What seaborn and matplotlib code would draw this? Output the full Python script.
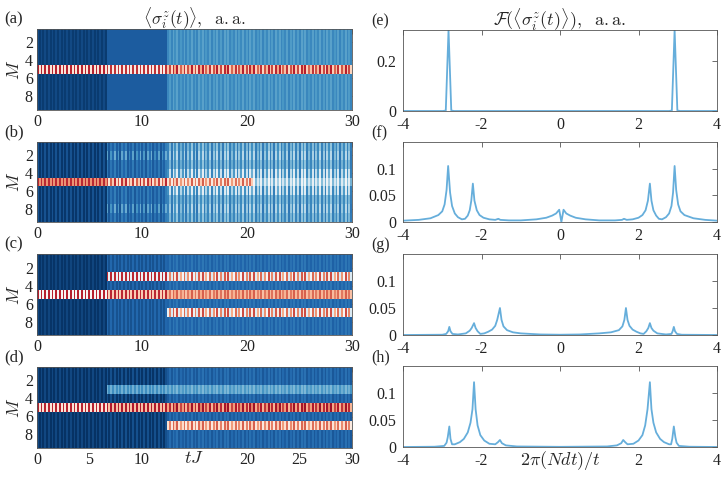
import numpy as np
import pandas as pd
import matplotlib
matplotlib.use('Agg')
import matplotlib.pyplot as plt
import seaborn as sns

# heat map grid: one column per time step, one row per site M
n_cols = 172
t_max = 30
M_rows = [1, 2, 3, 4, 5, 6, 7, 8, 9]

# stripe patterns seen in the maps (one entry per column, repeated)
wave_even = [1, -1]
wave_beat = [1, -0.8, 0.6, -1, 0.9, -0.4, 1, -0.9, 0.3, -0.7, 0.8, -1, 0.5, -0.6]

# panel (a): segment edges in tJ, background level / stripe amplitude,
# rows that differ from the background: {M: (levels, amplitudes)}
a_edges = [0, 6.7, 12.4, 30]
a_waves = ['even', 'even', 'beat']
a_bg = [-0.93, -0.83, -0.6]
a_bg_amp = [0.03, 0.0, 0.06]
a_rows = {5: ([0.45, 0.4, 0.5], [0.32, 0.32, 0.28])}

# panel (b)
b_edges = [0, 6.7, 12.4, 20.5, 30]
b_waves = ['even', 'beat', 'beat', 'beat']
b_bg = [-0.92, -0.77, -0.55, -0.55]
b_bg_amp = [0.05, 0.08, 0.15, 0.15]
b_rows = {2: ([-0.92, -0.68, -0.5, -0.5], [0.05, 0.18, 0.22, 0.22]),
          4: ([-0.92, -0.77, -0.38, -0.4], [0.05, 0.08, 0.28, 0.28]),
          5: ([0.6, 0.45, 0.35, -0.25], [0.15, 0.3, 0.25, 0.22]),
          6: ([-0.92, -0.77, -0.38, -0.4], [0.05, 0.08, 0.28, 0.28]),
          8: ([-0.92, -0.68, -0.5, -0.5], [0.05, 0.18, 0.22, 0.22])}

# panel (c)
c_edges = [0, 6.7, 12.4, 30]
c_waves = ['even', 'even', 'beat']
c_bg = [-0.95, -0.83, -0.77]
c_bg_amp = [0.03, 0.04, 0.05]
c_rows = {3: ([-0.95, 0.35, 0.25], [0.03, 0.4, 0.4]),
          5: ([0.4, 0.5, 0.45], [0.38, 0.25, 0.15]),
          7: ([-0.95, -0.83, 0.25], [0.03, 0.04, 0.4])}

# panel (d)
d_edges = [0, 6.7, 12.4, 30]
d_waves = ['even', 'even', 'beat']
d_bg = [-0.95, -0.93, -0.8]
d_bg_amp = [0.04, 0.05, 0.05]
d_rows = {3: ([-0.95, -0.55, -0.52], [0.04, 0.07, 0.07]),
          5: ([0.45, 0.55, 0.6], [0.32, 0.25, 0.25]),
          7: ([-0.95, -0.93, 0.35], [0.04, 0.05, 0.25])}

# spectra, 2*pi*(N dt)/t vs amplitude
e_x = [-4, -2.98, -2.91, -2.84, -2.77, -2.7, 2.78, 2.85, 2.92, 2.99, 3.06, 4]
e_y = [0, 0, 0.002, 0.325, 0.002, 0, 0, 0.002, 0.325, 0.002, 0, 0]

f_x = [-4.0, -3.6, -3.3, -3.1, -3.0, -2.94, -2.89, -2.85, -2.80, -2.75,
       -2.68, -2.6, -2.5, -2.42, -2.35, -2.3, -2.26, -2.22, -2.18, -2.12,
       -2.05, -1.95, -1.8, -1.65, -1.57, -1.52, -1.3, -1.0, -0.6, -0.35,
       -0.2, -0.1, -0.02, 0.035, 0.09, 0.16, 0.26, 0.4, 0.65, 1.0,
       1.4, 1.58, 1.63, 1.7, 1.85, 2.0, 2.1, 2.18, 2.24, 2.29,
       2.33, 2.38, 2.45, 2.52, 2.6, 2.7, 2.78, 2.84, 2.88, 2.92,
       2.96, 3.01, 3.07, 3.17, 3.4, 3.7, 4.0]
f_y = [0.0025, 0.004, 0.007, 0.013, 0.02, 0.033, 0.06, 0.105, 0.055, 0.03,
       0.016, 0.009, 0.005, 0.006, 0.012, 0.022, 0.04, 0.072, 0.04, 0.022,
       0.013, 0.008, 0.005, 0.004, 0.006, 0.004, 0.003, 0.003, 0.005, 0.008,
       0.012, 0.016, 0.023, 0.0, 0.023, 0.016, 0.012, 0.008, 0.005, 0.003,
       0.003, 0.004, 0.006, 0.004, 0.005, 0.008, 0.013, 0.022, 0.04, 0.072,
       0.04, 0.022, 0.012, 0.006, 0.005, 0.009, 0.016, 0.03, 0.055, 0.105,
       0.06, 0.033, 0.02, 0.013, 0.007, 0.004, 0.0025]

g_x = [-4, -3.0, -2.9, -2.85, -2.82, -2.79, -2.74, -2.6, -2.4, -2.3,
       -2.25, -2.19, -2.15, -2.1, -2.03, -1.93, -1.83, -1.73, -1.65, -1.6,
       -1.53, -1.49, -1.44, -1.35, -1.2, -1.0, -0.5, 0, 0.5, 1.0,
       1.3, 1.5, 1.59, 1.64, 1.68, 1.72, 1.77, 1.85, 1.95, 2.05,
       2.13, 2.2, 2.25, 2.29, 2.33, 2.38, 2.48, 2.7, 2.84, 2.87,
       2.9, 2.93, 2.98, 3.1, 4]
g_y = [0, 0.0005, 0.002, 0.007, 0.015, 0.007, 0.002, 0.001, 0.003, 0.008,
       0.013, 0.022, 0.013, 0.007, 0.002, 0.003, 0.006, 0.01, 0.017, 0.028,
       0.05, 0.028, 0.016, 0.009, 0.005, 0.003, 0.001, 0.0005, 0.001, 0.003,
       0.005, 0.009, 0.016, 0.028, 0.05, 0.028, 0.017, 0.01, 0.006, 0.003,
       0.002, 0.007, 0.013, 0.022, 0.013, 0.008, 0.003, 0.001, 0.002, 0.007,
       0.015, 0.007, 0.002, 0.0005, 0]

h_x = [-4, -3.2, -2.95, -2.89, -2.86, -2.82, -2.79, -2.75, -2.68, -2.55,
       -2.45, -2.35, -2.28, -2.23, -2.19, -2.15, -2.1, -2.03, -1.93, -1.8,
       -1.65, -1.58, -1.53, -1.48, -1.38, -1.1, 0, 1.2, 1.45, 1.56,
       1.61, 1.66, 1.72, 1.87, 2.0, 2.1, 2.17, 2.23, 2.29, 2.33,
       2.38, 2.45, 2.55, 2.65, 2.78, 2.83, 2.86, 2.9, 2.94, 2.97,
       3.03, 3.3, 4]
h_y = [0, 0.0005, 0.002, 0.008, 0.018, 0.038, 0.015, 0.005, 0.005, 0.009,
       0.015, 0.027, 0.045, 0.07, 0.12, 0.07, 0.04, 0.022, 0.012, 0.006,
       0.005, 0.009, 0.013, 0.007, 0.003, 0.001, 0.0003, 0.001, 0.003, 0.007,
       0.013, 0.009, 0.005, 0.006, 0.012, 0.022, 0.04, 0.07, 0.12, 0.07,
       0.045, 0.027, 0.015, 0.009, 0.005, 0.005, 0.015, 0.038, 0.018, 0.008,
       0.002, 0.0005, 0]

line_color = '#66aedb'
box_color = '#555555'
fs = 11.5


def panel_matrix(edges, waves, bg, bg_amp, rows):
    """Builds the M x time table of one heat map from its segment levels."""
    dt = t_max / n_cols
    t = (np.arange(n_cols) + 0.5) * dt
    seg = np.searchsorted(edges, t) - 1
    data = np.zeros((len(M_rows), n_cols))
    for j in range(n_cols):
        s = seg[j]
        w = wave_even if waves[s] == 'even' else wave_beat
        wj = w[j % len(w)]
        for i, m in enumerate(M_rows):
            if m in rows:
                base, amp = rows[m][0][s], rows[m][1][s]
            else:
                base, amp = bg[s], bg_amp[s]
            data[i, j] = base + amp * wj
    return pd.DataFrame(data, index=M_rows)


def boxed(ax):
    for s in ax.spines.values():
        s.set_visible(True)
        s.set_color(box_color)
        s.set_linewidth(0.6)
    ax.tick_params(direction='in', top=True, right=True, length=3.5,
                   width=0.6, color=box_color, labelsize=fs,
                   labelcolor='#222222', pad=3)


def draw_heat(ax, df, xticks, xlabels):
    sns.heatmap(df, ax=ax, cmap='RdBu_r', vmin=-1, vmax=1, cbar=False,
                xticklabels=False, yticklabels=False)
    scale = n_cols / t_max
    ax.set_xticks([x * scale for x in xticks])
    ax.set_xticklabels(xlabels)
    ax.set_yticks([m - 0.5 for m in [2, 4, 6, 8]])
    ax.set_yticklabels(['2', '4', '6', '8'])
    ax.set_ylabel('$M$', fontsize=fs + 1, labelpad=1)
    boxed(ax)


def draw_spec(ax, x, y, ymax, yticks, ylabels, xlabels):
    sns.lineplot(x=x, y=y, ax=ax, color=line_color, lw=1.3, sort=False)
    ax.set_xlim(-4, 4)
    ax.set_ylim(0, ymax)
    ax.set_xticks([-4, -2, 0, 2, 4])
    ax.set_xticklabels(xlabels)
    ax.set_yticks(yticks)
    ax.set_yticklabels(ylabels)
    ax.set_xlabel('')
    ax.set_ylabel('')
    boxed(ax)
    ax.tick_params(axis='y', pad=5)
    ax.tick_params(axis='x', pad=4)


def main():
    sns.set_style('white')
    plt.rcParams['font.family'] = ['Liberation Serif', 'DejaVu Serif']
    plt.rcParams['mathtext.fontset'] = 'cm'
    plt.rcParams['axes.unicode_minus'] = False

    fig = plt.figure(figsize=(7.27, 4.8), dpi=100)
    W, H = 727, 480
    left_rows = [(29, 110), (142, 222), (254, 335), (367, 448)]
    right_rows = [(30, 111), (142, 222), (254, 335), (366, 447)]

    heat = [(a_edges, a_waves, a_bg, a_bg_amp, a_rows),
            (b_edges, b_waves, b_bg, b_bg_amp, b_rows),
            (c_edges, c_waves, c_bg, c_bg_amp, c_rows),
            (d_edges, d_waves, d_bg, d_bg_amp, d_rows)]
    spec = [(e_x, e_y, 0.325, [0, 0.2], ['0', '0.2']),
            (f_x, f_y, 0.15, [0, 0.05, 0.1], ['0', '0.05', '0.1']),
            (g_x, g_y, 0.15, [0, 0.05, 0.1], ['0', '0.05', '0.1']),
            (h_x, h_y, 0.15, [0, 0.05, 0.1], ['0', '0.05', '0.1'])]
    left_labels = ['(a)', '(b)', '(c)', '(d)']
    right_labels = ['(e)', '(f)', '(g)', '(h)']

    for k in range(4):
        top, bot = left_rows[k]
        ax = fig.add_axes([37 / W, 1 - bot / H, 315 / W, (bot - top) / H])
        if k == 3:
            xt = [0, 5, 10, 15, 20, 25, 30]
            xl = ['0', '5', '10', '', '20', '25', '30']
        else:
            xt = [0, 10, 20, 30]
            xl = ['0', '10', '20', '30']
        draw_heat(ax, panel_matrix(*heat[k]), xt, xl)
        fig.text(4 / W, 1 - (top - 2) / H, left_labels[k], fontsize=fs + 0.5,
                 ha='left', va='bottom')
        if k == 0:
            ax.set_title(r'$\langle\sigma_i^z(t)\rangle,\ \ \mathrm{a.a.}$',
                         fontsize=fs + 1, pad=3)
        if k == 3:
            ax.set_xlabel('$tJ$', fontsize=fs + 1.5, labelpad=-13)

        top, bot = right_rows[k]
        ax = fig.add_axes([403 / W, 1 - bot / H, 314 / W, (bot - top) / H])
        xl = ['-4', '-2', '', '2', '4'] if k == 3 else ['-4', '-2', '0', '2', '4']
        draw_spec(ax, *spec[k], xl)
        fig.text(371 / W, 1 - (top - 1) / H, right_labels[k],
                 fontsize=fs, ha='left', va='bottom')
        if k == 0:
            ax.set_title(r'$\mathcal{F}(\langle\sigma_i^z(t)\rangle),'
                         r'\ \ \mathrm{a.a.}$', fontsize=fs + 1.5, pad=3)
        if k == 3:
            ax.set_xlabel(r'$2\pi(Ndt)/t$', fontsize=fs + 1.5, labelpad=-14)

    fig.savefig('out.png', dpi=100)


if __name__ == '__main__':
    main()
